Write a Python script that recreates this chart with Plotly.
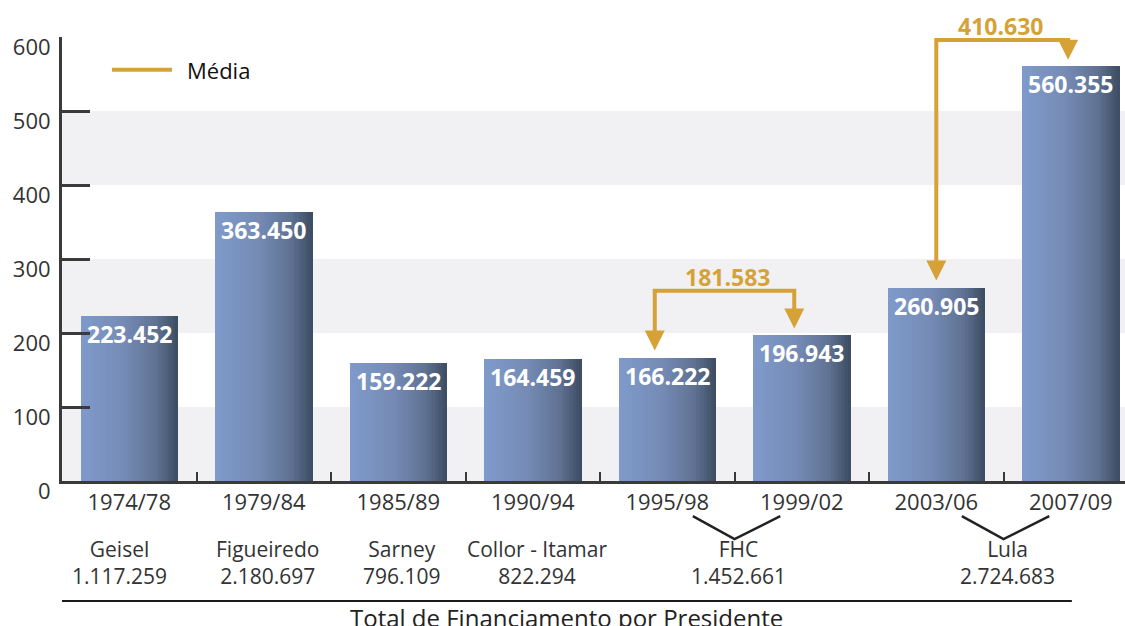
import math
import plotly.graph_objects as go

# Financing per period (R$ thousand) and totals per president
periods = ["1974/78", "1979/84", "1985/89", "1990/94", "1995/98", "1999/02", "2003/06", "2007/09"]
values = [223452, 363450, 159222, 164459, 166222, 196943, 260905, 560355]
presidents = ["Geisel", "Figueiredo", "Sarney", "Collor - Itamar", "FHC", "Lula"]
president_totals = [1117259, 2180697, 796109, 822294, 1452661, 2724683]
president_periods = [[0], [1], [2], [3], [4, 5], [6, 7]]
mean_pairs = [[4, 5], [6, 7]]
y_ticks = [0, 100, 200, 300, 400, 500, 600]


def fmt(n):
    return f"{n:,}".replace(",", ".")


FONT = "Open Sans"
GOLD = "#d6a237"
AXIS = "#3a3a3a"
TEXT = "#333333"

y_vals = [v / 1000 for v in values]
BAR_W = 0.72

# horizontal gradient of each bar, drawn as thin adjacent strips
stops = [(0.0, (127, 154, 203)), (0.45, (117, 139, 181)),
         (0.78, (95, 114, 146)), (1.0, (60, 76, 98))]


def grad(t):
    for (t0, c0), (t1, c1) in zip(stops[:-1], stops[1:]):
        if t <= t1:
            f = (t - t0) / (t1 - t0)
            return "rgb(%d,%d,%d)" % tuple(round(a + (b - a) * f) for a, b in zip(c0, c1))
    return "rgb(%d,%d,%d)" % stops[-1][1]


fig = go.Figure()
N = 40
sw = BAR_W / N
for i in range(N):
    fig.add_trace(go.Bar(
        x=periods, y=y_vals,
        width=sw * 1.25, offset=-BAR_W / 2 + i * sw,
        marker=dict(color=grad((i + 0.5) / N), line=dict(width=0)),
        showlegend=False, hoverinfo="skip",
    ))

shapes = []
annotations = []

# value labels inside the top of each bar
for p, v, yv in zip(periods, values, y_vals):
    annotations.append(dict(x=p, y=yv, xref="x", yref="y", yshift=-18, yanchor="middle",
                            text=fmt(v), showarrow=False,
                            font=dict(family=FONT, size=23, color="white", weight="bold")))

# alternating light bands
for lo in (0, 200, 400):
    shapes.append(dict(type="rect", xref="paper", x0=0, x1=1, yref="y", y0=lo, y1=lo + 100,
                       fillcolor="#f1f1f3", line=dict(width=0), layer="below"))

# mean connectors between the periods of one president
connector_style = {4: dict(dxa=-0.093, dxb=-0.056, top=257, lab=0.02),
                   6: dict(dxa=0.0, dxb=-0.02, top=596, lab=-0.015)}
for a, b in mean_pairs:
    st = connector_style[a]
    mean = math.floor((values[a] + values[b]) / 2 + 0.5)
    xa, xb = a + st["dxa"], b + st["dxb"]
    ya, yb = y_vals[a] + 10, y_vals[b] + 9
    top = st["top"]
    shapes.append(dict(type="path", xref="x", yref="y",
                       path=f"M {xa},{ya + 14} L {xa},{top} L {xb},{top} L {xb},{yb + 14}",
                       line=dict(color=GOLD, width=4)))
    for xx, yy in ((xa, ya), (xb, yb)):
        annotations.append(dict(x=xx, y=yy, xref="x", yref="y", ax=0, ay=-18, text="",
                                showarrow=True, arrowhead=2, arrowsize=1.0, arrowwidth=4,
                                arrowcolor=GOLD, standoff=0))
    annotations.append(dict(x=(xa + xb) / 2 + st["lab"], y=top, yshift=14, yanchor="middle",
                            xref="x", yref="y", text=fmt(mean), showarrow=False,
                            font=dict(family=FONT, size=23, color=GOLD, weight="bold")))

# president names and totals under the axis
for name, total, idx in zip(presidents, president_totals, president_periods):
    cx = sum(idx) / len(idx)
    if len(idx) == 2:
        shapes.append(dict(type="path", xref="x", yref="paper",
                           path=f"M {cx - 0.31},-0.079 L {cx},-0.131 L {cx + 0.34},-0.079",
                           line=dict(color="#222222", width=2.5)))
    annotations.append(dict(x=cx + (-0.07 if idx == [0] else 0.03), y=-0.183, xref="x", yref="paper",
                            yanchor="middle", text=f"{name}<br>{fmt(total)}", showarrow=False,
                            font=dict(family=FONT, size=21, color=TEXT), align="center"))

shapes.append(dict(type="line", xref="paper", x0=0, x1=0.95, yref="paper", y0=-0.27, y1=-0.27,
                   line=dict(color="#1a1a1a", width=2)))
annotations.append(dict(x=0.475, y=-0.308, xref="paper", yref="paper", yanchor="middle",
                        xanchor="center", text="Total de Financiamento por Presidente",
                        showarrow=False, font=dict(family=FONT, size=24, color="#222222")))

# legend key
shapes.append(dict(type="line", xref="paper", x0=0.047, x1=0.1035, yref="paper", y0=0.926, y1=0.926,
                   line=dict(color=GOLD, width=4)))
annotations.append(dict(x=0.1157, y=0.926, xref="paper", yref="paper", xanchor="left",
                        yanchor="middle", text="Média", showarrow=False,
                        font=dict(family=FONT, size=22, color="#111111")))

fig.update_layout(
    width=1125, height=626, autosize=False,
    margin=dict(l=62, r=0, t=37, b=145),
    paper_bgcolor="white", plot_bgcolor="white",
    barmode="overlay", bargap=0,
    shapes=shapes, annotations=annotations,
    font=dict(family=FONT, color=TEXT),
    xaxis=dict(type="category", range=[-0.5, 7.403], showline=True, linewidth=3, linecolor=AXIS,
               ticks="inside", tickson="boundaries", ticklen=9, tickwidth=2, tickcolor=AXIS,
               showgrid=False, zeroline=False, tickfont=dict(family=FONT, size=22, color=TEXT)),
    yaxis=dict(range=[0, 600], tickvals=y_ticks, showline=True, linewidth=3, linecolor=AXIS,
               ticks="inside", ticklen=28, tickwidth=3, tickcolor=AXIS, showgrid=False,
               zeroline=False, ticklabelshift=10, ticklabelstandoff=4,
               tickfont=dict(family=FONT, size=22, color=TEXT)),
)

fig.write_html("out.html")
